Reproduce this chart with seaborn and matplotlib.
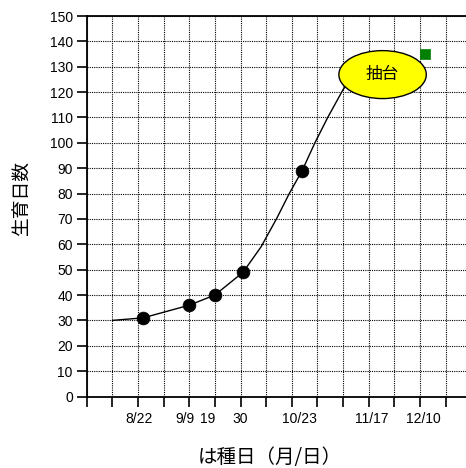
import matplotlib
matplotlib.use("Agg")
import matplotlib.pyplot as plt
import seaborn as sns
import pandas as pd
from matplotlib.patches import Ellipse
from matplotlib.ticker import MultipleLocator, FixedLocator, FixedFormatter, NullFormatter
from datetime import date

# ---------------- data ----------------
sow_dates = ["8/22", "9/9", "9/19", "9/30", "10/23"]
growth_days = [31, 36, 40, 49, 89]

# the smoothed line
curve_dates = ["8/10", "8/22", "9/9", "9/19", "9/30", "10/7", "10/13",
               "10/18", "10/23", "10/28", "11/2", "11/8", "11/17"]
curve_values = [30, 31, 36, 40, 49, 59, 70, 80, 89, 100, 110, 121, 133]

bolting_date = ["12/10"]
bolting_value = [135]

tick_dates = ["8/22", "9/9", "9/19", "9/30", "10/23", "11/17", "12/10"]
tick_labels = ["8/22", "9/9", "19", "30", "10/23", "11/17", "12/10"]
y_ticks = list(range(0, 151, 10))

annotation_text = "抽台"
x_title = "は種日（月/日）"
y_title = "生育日数"

# ---------------- helpers ----------------
ORIGIN = date(2000, 7, 31)


def to_day(s):
    m, d = s.split("/")
    return (date(2000, int(m), int(d)) - ORIGIN).days


label_nudge = [-1.4, -1.6, -3.0, -1.0, -1.2, 2.2, -0.6]  # label placement tweak (days)

sns.set_theme(style="white")
plt.rcParams['font.family'] = ['Liberation Sans', 'Noto Sans CJK JP', 'DejaVu Sans']
cjk = ['Noto Sans CJK JP', 'DejaVu Sans']

W, H = 466, 468
fig = plt.figure(figsize=(W / 100, H / 100), dpi=100)
fig.patch.set_facecolor("white")
ax = fig.add_axes([86.7 / W, (H - 396.5) / H, 384.6 / W, 380.5 / H])
ax.set_facecolor("white")

curve_df = pd.DataFrame({"day": [to_day(s) for s in curve_dates], "value": curve_values})
pts_df = pd.DataFrame({"day": [to_day(s) for s in sow_dates], "value": growth_days})
bolt_df = pd.DataFrame({"day": [to_day(s) for s in bolting_date], "value": bolting_value})

sns.lineplot(data=curve_df, x="day", y="value", ax=ax, color="black",
             linewidth=1.0, sort=False, zorder=3)
sns.scatterplot(data=pts_df, x="day", y="value", ax=ax, color="black",
                s=85, marker="o", edgecolor="black", linewidth=0.5, zorder=4)
sns.scatterplot(data=bolt_df, x="day", y="value", ax=ax, color="#008000",
                s=55, marker="s", edgecolor="#008000", linewidth=0.5, zorder=4)

# annotation ellipse
ell = Ellipse((115.4, 126.9), 34.1, 18.9, facecolor="#FFFF00",
              edgecolor="black", linewidth=1.0, zorder=5)
ax.add_patch(ell)
ax.text(115.4, 126.9, annotation_text, ha="center", va="center",
        fontsize=12, family=cjk, zorder=6, color="black")

ax.set_xlim(0, 150)
ax.set_ylim(0, 150)

# y axis
ax.yaxis.set_major_locator(FixedLocator(y_ticks))
ax.set_yticklabels([str(v) for v in y_ticks])
# x axis: grid ticks every 10 days, date labels on minor ticks
ax.xaxis.remove_overlapping_locs = False
ax.xaxis.set_major_locator(MultipleLocator(10))
ax.xaxis.set_major_formatter(NullFormatter())
tick_pos = [to_day(s) + n for s, n in zip(tick_dates, label_nudge)]
ax.xaxis.set_minor_locator(FixedLocator(tick_pos))
ax.xaxis.set_minor_formatter(FixedFormatter(tick_labels))

ax.tick_params(axis="both", which="major", direction="out", length=7,
               width=1.2, color="black", labelsize=10, labelcolor="black",
               bottom=True, left=True)
ax.tick_params(axis="y", which="major", pad=3)
ax.tick_params(axis="x", which="minor", length=0, labelsize=10, pad=11,
               labelcolor="black", bottom=True)

ax.grid(True, which="major", color="black", linestyle=(0, (1, 1)), linewidth=0.8)
ax.set_axisbelow(True)

for side in ["left", "bottom", "top", "right"]:
    ax.spines[side].set_visible(True)
    ax.spines[side].set_color("black")
    ax.spines[side].set_linewidth(1.3)

ax.set_xlabel("")
ax.set_ylabel("")

fig.text(22 / W, 1 - 199 / H, y_title, rotation=90, ha="center", va="center",
         fontsize=13.5, family=cjk, color="black")
fig.text(270 / W, 1 - 458 / H, x_title, ha="center", va="center",
         fontsize=14, family=cjk, color="black")

fig.savefig("out.png", dpi=100, facecolor="white")
